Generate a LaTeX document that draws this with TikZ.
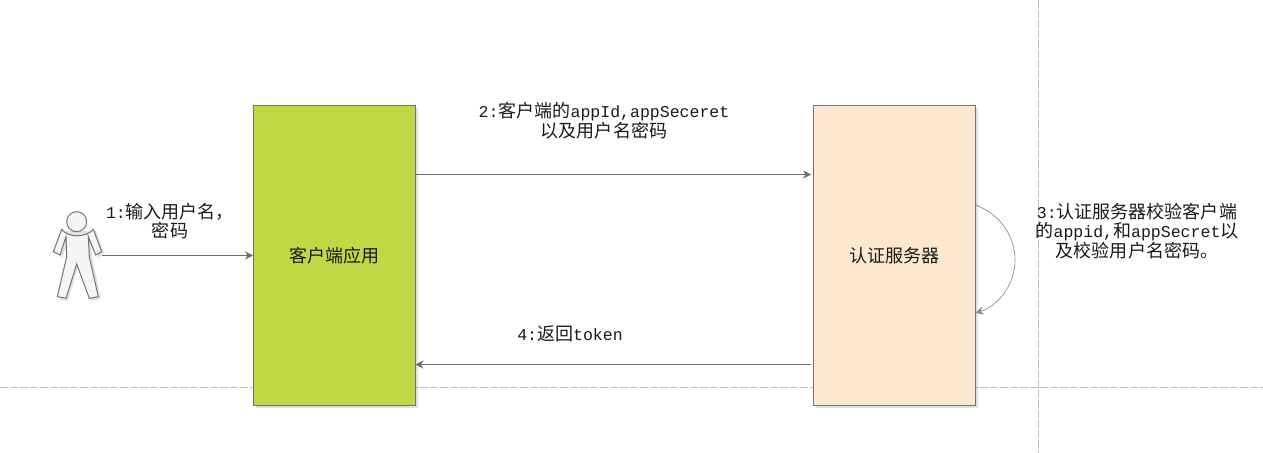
\documentclass[tikz,border=0pt]{standalone}
\usepackage{fontspec}
\setmainfont{Liberation Mono}
\newfontfamily\cjk[Scale=1.09]{Noto Sans CJK SC}
\usepackage{tikz}
\usetikzlibrary{arrows.meta,shadows}

\newcommand{\zh}[1]{{\cjk #1}}

\tikzset{
    stepbox/.style={draw=boxedge, line width=0.75pt, minimum width=121.5pt, minimum height=225pt, inner sep=0pt, text=labeltext, drop shadow={shadow xshift=2pt, shadow yshift=-2pt, opacity=0.12, fill=black}},
    steplabel/.style={align=center, inner sep=0pt, text=labeltext},
    flow/.style={draw=flowline, line width=0.75pt, -{Stealth[length=6pt,width=6pt]}},
    guide/.style={draw=guideline, line width=0.75pt, dashed, dash pattern=on 6pt off 1.5pt},
    userpart/.style={draw=boxedge, fill=black!4, line width=0.75pt}
}

\begin{document}
\begin{tikzpicture}[x=0.75pt, y=-0.75pt, font=\fontsize{12.4}{13.8}\selectfont]
        % Define colors
        \definecolor{boxedge}{rgb}{0.45, 0.45, 0.45}
        \definecolor{flowline}{rgb}{0.42, 0.42, 0.42}
        \definecolor{guideline}{rgb}{0.74, 0.74, 0.74}
        \definecolor{labeltext}{rgb}{0.1, 0.1, 0.1}
        \definecolor{clientgreen}{rgb}{0.75, 0.85, 0.27}
        \definecolor{serverpeach}{rgb}{0.99, 0.91, 0.82}

        % Fix the page size
        \useasboundingbox (0,0) rectangle (1263,453);

        % Draw dashed guides
        \coordinate (guideleft) at (0,387.5);
        \coordinate (guideright) at (1263,387.5);
        \coordinate (guidetop) at (1038.5,0);
        \coordinate (guidebottom) at (1038.5,453);
        \draw[guide] (guideleft) -- (guideright);
        \draw[guide] (guidetop) -- (guidebottom);

        % Draw the two boxes
        \node[stepbox, fill=clientgreen] (client) at (334.5,255.5) {\zh{客户端应用}};
        \node[stepbox, fill=serverpeach] (server) at (894.5,255.5) {\zh{认证服务器}};

        % Draw the user
        \fill[black, opacity=0.12] (64,231) -- (56,252) -- (62,258) -- (69,240) -- (69,257) -- (60,300) -- (68,301) -- (78,267) -- (91,301) -- (101,299) -- (92,257) -- (91,240) -- (98,258) -- (104,253) -- (96,231) -- cycle;
        \draw[userpart] (61.7,229.3) .. controls (68,238) and (86,238) .. (93.3,229.3) -- (101.7,251.7) -- (95.7,255) -- (88.3,236.7) -- (89.3,256.7) -- (98.3,296.7) -- (89.3,298.3) -- (76.7,264) -- (66,298.3) -- (57.3,296.7) -- (66.7,256.7) -- (66,236.7) -- (60,255) -- (53.3,251.7) -- cycle;
        \draw[userpart] (76.7,221.7) circle (10);
        \coordinate (userhand) at (101.7,255.5);

        % Draw the arrows
        \coordinate (clientout) at (415.5,174.5);
        \coordinate (serverin) at (811,174.5);
        \coordinate (serverout) at (811,364.5);
        \coordinate (clientin) at (415.5,364.5);
        \coordinate (loopstart) at (975.5,205);
        \coordinate (loopend) at (975.5,313);
        \draw[flow] (userhand) -- (client.west);
        \draw[flow] (clientout) -- (serverin);
        \draw[flow] (serverout) -- (clientin);
        \draw[flow, draw=flowline!80, line width=0.5pt] (loopstart) .. controls (1002,215) and (1015,238) .. (1015,260) .. controls (1015,285) and (998,306) .. (loopend);

        % Draw the labels
        \node[steplabel] (userlabel) at (170,221) {1:\zh{输入用户名，}\\\zh{密码}};
        \node[steplabel] (appidlabel) at (604,121) {2:\zh{客户端的}appId,appSeceret\\\zh{以及用户名密码}};
        \node[steplabel] (checklabel) at (1137,231) {3:\zh{认证服务器校验客户端}\\\zh{的}appid,\zh{和}appSecret\zh{以}\\\zh{及校验用户名密码。}};
        \node[steplabel] (tokenlabel) at (570,334) {4:\zh{返回}token};
\end{tikzpicture}
\end{document}
